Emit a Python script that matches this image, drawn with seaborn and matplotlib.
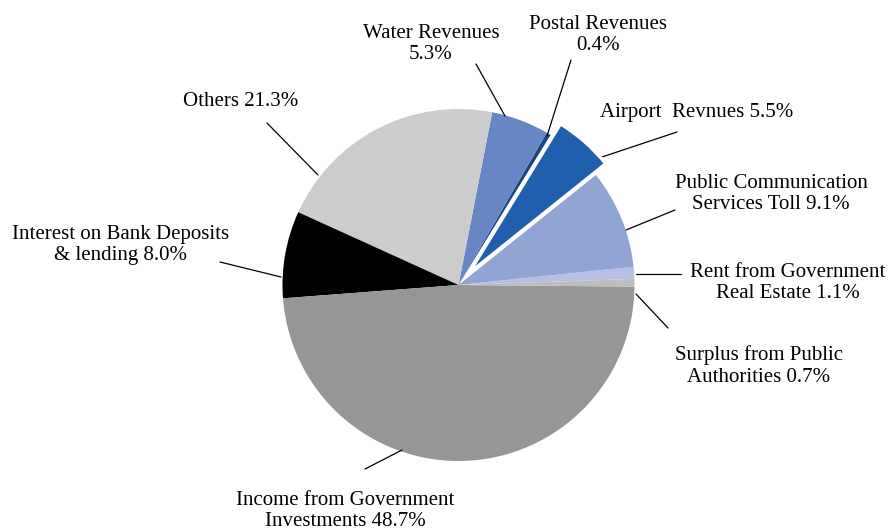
import matplotlib
matplotlib.use("Agg")
import matplotlib.pyplot as plt
import seaborn as sns

# ---- data (counter-clockwise from 3 o'clock) ----
categories = [
    "Rent from Government\nReal Estate",
    "Public Communication\nServices Toll",
    "Airport  Revnues",
    "Postal Revenues\n",
    "Water Revenues\n",
    "Others",
    "Interest on Bank Deposits\n& lending",
    "Income from Government\nInvestments",
    "Surplus from Public\nAuthorities",
]
shares = [1.1, 9.1, 5.5, 0.4, 5.3, 21.3, 8.0, 48.7, 0.7]
colors = ["#B7BFE6", "#91A5D5", "#1F5FAD", "#17477E", "#6787C4",
          "#CCCCCC", "#000000", "#969696", "#BEBEBE"]
pulled_out = [False, False, True, False, False, False, False, False, False]

sns.set_theme(style="white")
plt.rcParams["font.family"] = ["Liberation Serif", "DejaVu Serif"]

W, H = 890, 532
fig = plt.figure(figsize=(W / 100, H / 100), dpi=100)
ax = fig.add_axes([0, 0, 1, 1])

cx, cy, r = 458.5, H - 285, 176
explode = [0.085 * r if p else 0 for p in pulled_out]  # pie explode is in data units
wedges, _ = ax.pie(shares, colors=colors, explode=explode, startangle=2,
                   counterclock=True, center=(cx, cy), radius=r,
                   wedgeprops=dict(linewidth=0), frame=True)
ax.set_xlim(0, W)
ax.set_ylim(0, H)
ax.set_aspect("equal")
ax.axis("off")
for w, p in zip(wedges, pulled_out):
    if p:
        w.set_edgecolor("white")
        w.set_linewidth(2.5)
        w.set_zorder(3)

# label placement (pixel coords, y from top): text anchor, alignment, leader line
layout = [
    ((788, 283), "center", ((636, 274), (681, 274))),
    ((771, 194), "center", ((626, 230), (675, 210))),
    ((600, 113), "left", ((602, 157), (677, 132))),
    ((598, 35), "center", ((547, 136), (571, 60))),
    ((431, 44), "center", ((505, 116), (476, 64))),
    ((241, 101), "center", ((318, 175), (267, 123))),
    ((121, 245), "center", ((281, 277), (220, 262))),
    ((345, 511), "center", ((402, 450), (365, 469))),
    ((759, 366), "center", ((636, 294), (668, 328))),
]

for name, val, ((tx, ty), ha, (p0, p1)) in zip(categories, shares, layout):
    label = f"{name} {val:.1f}%" if not name.endswith("\n") else f"{name}{val:.1f}%"
    ax.text(tx, H - ty, label, ha=ha, va="center", fontsize=15,
            color="black", linespacing=1.2, multialignment="center")
    ax.plot([p0[0], p1[0]], [H - p0[1], H - p1[1]], color="black", lw=0.9)

fig.savefig("out.png", dpi=100)
